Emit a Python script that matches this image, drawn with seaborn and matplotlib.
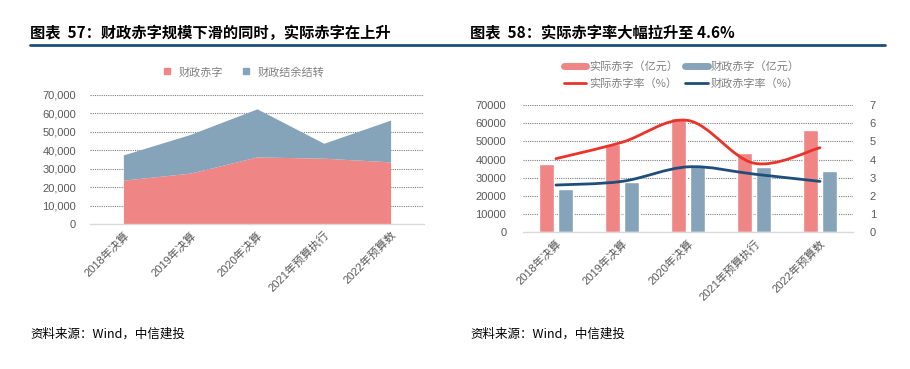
import numpy as np
import pandas as pd
import matplotlib
matplotlib.use("Agg")
import matplotlib.pyplot as plt
from matplotlib.path import Path
from matplotlib.patches import PathPatch
from matplotlib.lines import Line2D
from matplotlib.ticker import FuncFormatter, MultipleLocator
import seaborn as sns

# ---------------- data ----------------
categories = ['2018年决算', '2019年决算', '2020年决算', '2021年预算执行', '2022年预算数']
fiscal_deficit = [23800, 27600, 36400, 35700, 33700]      # 财政赤字（亿元）
carryover = [13700, 21000, 26100, 8100, 22700]            # 财政结余结转
actual_deficit = [37600, 48400, 62700, 43800, 56300]      # 实际赤字（亿元）
actual_rate = [4.05, 4.95, 6.15, 3.8, 4.65]               # 实际赤字率（%）
fiscal_rate = [2.6, 2.8, 3.6, 3.2, 2.8]                   # 财政赤字率（%）

left_title = '图表  57：财政赤字规模下滑的同时，实际赤字在上升'
right_title = '图表  58：实际赤字率大幅拉升至 4.6%'
source_text = '资料来源：Wind，中信建投'

# ---------------- style ----------------
sns.set_theme(style='white')
CJK = ['Liberation Sans', 'Noto Sans CJK SC', 'DejaVu Sans']
plt.rcParams['font.family'] = CJK

RED_AREA = '#F08585'
BLUE_AREA = '#86A4B9'
RED_LINE = '#E9332B'
BLUE_LINE = '#1F4E7A'
TICK = '#595959'
GRID = '#7F7F7F'
TITLE_LINE = '#1F4E79'

fig = plt.figure(figsize=(9.10, 3.69), dpi=100)

# titles and rule
fig.text(30/910, 1-33/369, left_title, fontsize=11, fontweight='bold',
         family=['Noto Sans CJK SC', 'DejaVu Sans'], va='center', ha='left', color='black')
fig.text(470/910, 1-33/369, right_title, fontsize=11, fontweight='bold',
         family=['Noto Sans CJK SC', 'DejaVu Sans'], va='center', ha='left', color='black')
fig.add_artist(Line2D([30/910, 885/910], [1-45/369, 1-45/369], color=TITLE_LINE, lw=2,
                      transform=fig.transFigure))

# footers
for xf in (30/910, 470/910):
    fig.text(xf, 1-334/369, source_text, fontsize=9, style='italic',
             family=['Noto Sans CJK SC', 'DejaVu Sans'], va='center', ha='left', color='black')

def style_axis(ax):
    for s in ('top', 'right', 'left'):
        ax.spines[s].set_visible(False)
    ax.spines['bottom'].set_color('#D9D9D9')
    ax.spines['bottom'].set_linewidth(1)
    ax.tick_params(axis='both', length=0, colors=TICK, labelsize=8)
    ax.grid(False)

# ---------------- left: stacked area ----------------
axL = fig.add_axes([90/910, 1-224/369, 334/910, 129/369])
x = np.arange(len(categories))
fd = np.array(fiscal_deficit)
co = np.array(carryover)
for yv in range(10000, 70001, 10000):
    axL.axhline(yv, color=GRID, lw=0.8, ls=(0, (1, 1)), zorder=0)
axL.fill_between(x, 0, fd, color=RED_AREA, lw=0, zorder=2)
axL.fill_between(x, fd, fd + co, color=BLUE_AREA, lw=0, zorder=2)
axL.set_xlim(-0.5, len(categories) - 0.5)
axL.set_ylim(0, 70000)
axL.yaxis.set_major_locator(MultipleLocator(10000))
axL.yaxis.set_major_formatter(FuncFormatter(lambda v, p: f'{int(v):,}'))
axL.set_xticks(x)
axL.set_xticklabels(categories, rotation=45, ha='right', rotation_mode='anchor')
style_axis(axL)
axL.tick_params(axis='y', pad=10)
axL.tick_params(axis='x', pad=4)

fig.legend(handles=[Line2D([], [], marker='s', ls='', color=RED_AREA, markersize=5),
                    Line2D([], [], marker='s', ls='', color=BLUE_AREA, markersize=5)],
           labels=['财政赤字', '财政结余结转'], loc='center', bbox_to_anchor=(240/910, 1-72/369),
           ncol=2, frameon=False, labelcolor='#808080', handletextpad=0.1,
           columnspacing=1.0, prop={'family': ['Noto Sans CJK SC'], 'size': 8})

# ---------------- right: bars + smoothed rate lines ----------------
axR = fig.add_axes([523/910, 1-232.3/369, 330/910, 127.3/369])
df = pd.DataFrame({
    'cat': categories * 2,
    'val': actual_deficit + fiscal_deficit,
    'series': ['实际赤字（亿元）'] * 5 + ['财政赤字（亿元）'] * 5,
})
for yv in range(10000, 70001, 10000):
    axR.axhline(yv, color=GRID, lw=0.8, ls=(0, (1, 1)), zorder=0)
sns.barplot(data=df, x='cat', y='val', hue='series', ax=axR,
            palette=[RED_AREA, BLUE_AREA], width=0.58, gap=0.25, legend=False,
            saturation=1, zorder=2)
axR.set_xlim(-0.5, len(categories) - 0.5)
axR.set_ylim(0, 70000)
axR.yaxis.set_major_locator(MultipleLocator(10000))
axR.set_xlabel('')
axR.set_ylabel('')
axR.set_xticks(x)
axR.set_xticklabels(categories, rotation=45, ha='right', rotation_mode='anchor')
style_axis(axR)
axR.tick_params(axis='y', pad=12)
axR.tick_params(axis='x', pad=4)

axR2 = axR.twinx()
axR2.set_ylim(0, 7)
axR2.yaxis.set_major_locator(MultipleLocator(1))
for s in axR2.spines.values():
    s.set_visible(False)
axR2.tick_params(axis='y', length=0, colors=TICK, labelsize=8, pad=12)
axR2.grid(False)

def smooth_path(xs, ys):
    pts = np.column_stack([xs, ys]).astype(float)
    n = len(pts)
    verts = [pts[0]]
    codes = [Path.MOVETO]
    for i in range(n - 1):
        p0 = pts[i - 1] if i > 0 else pts[i]
        p1 = pts[i]
        p2 = pts[i + 1]
        p3 = pts[i + 2] if i + 2 < n else pts[i + 1]
        c1 = p1 + (p2 - p0) / 6.0
        c2 = p2 - (p3 - p1) / 6.0
        verts += [c1, c2, p2]
        codes += [Path.CURVE4] * 3
    return Path(verts, codes)

for rate, col in ((actual_rate, RED_LINE), (fiscal_rate, BLUE_LINE)):
    axR2.add_patch(PathPatch(smooth_path(x, rate), facecolor='none', edgecolor=col,
                             lw=2, capstyle='round', zorder=3))

handles = [Line2D([], [], color=RED_AREA, lw=5), Line2D([], [], color=RED_LINE, lw=2),
           Line2D([], [], color=BLUE_AREA, lw=5), Line2D([], [], color=BLUE_LINE, lw=2)]
labels = ['实际赤字（亿元）', '实际赤字率（%）', '财政赤字（亿元）', '财政赤字率（%）']
fig.legend(handles=handles, labels=labels, loc='center', bbox_to_anchor=(682/910, 1-75/369),
           ncol=2, frameon=False, labelcolor='#808080', handlelength=2.0, handletextpad=0.3,
           columnspacing=0.6, labelspacing=0.6,
           prop={'family': ['Noto Sans CJK SC'], 'size': 8})

fig.savefig('out.png', dpi=100)
